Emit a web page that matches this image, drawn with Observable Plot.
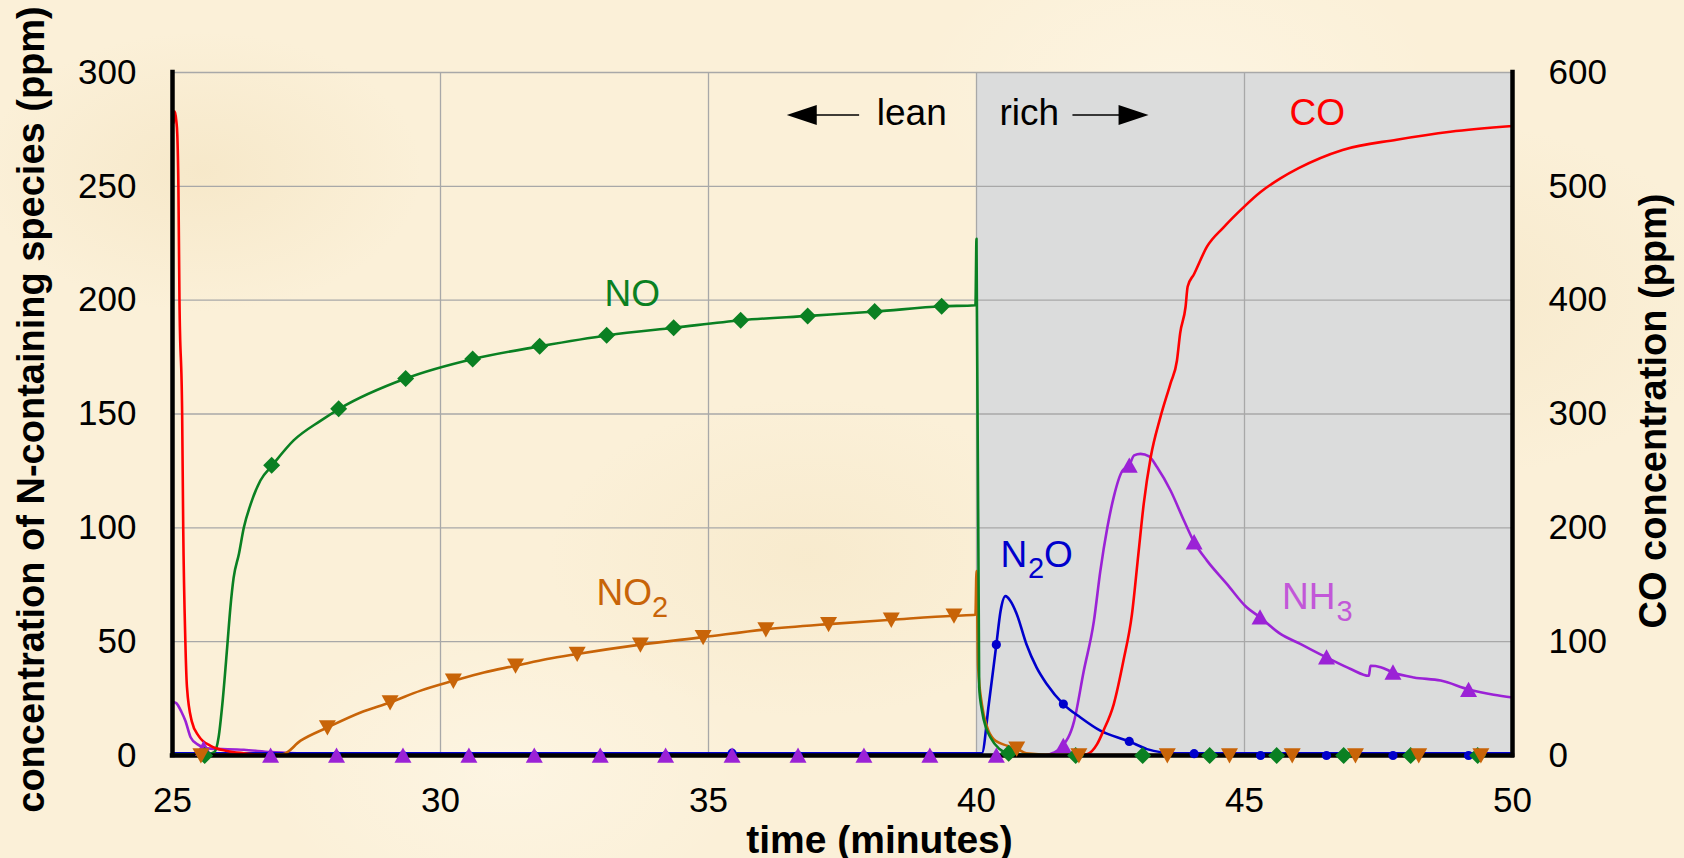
<!DOCTYPE html>
<html>
<head>
<meta charset="utf-8">
<script src="https://cdn.jsdelivr.net/npm/d3@7"></script>
<script src="https://cdn.jsdelivr.net/npm/@observablehq/plot@0.6"></script>
<style>
  html, body { margin: 0; padding: 0; }
  body {
    width: 1684px; height: 858px; overflow: hidden;
    background-color: #FBF0D8;
    background-image:
      radial-gradient(ellipse 220px 140px at 12% 20%, rgba(238,218,175,0.35), rgba(238,218,175,0) 100%),
      radial-gradient(ellipse 260px 160px at 48% 65%, rgba(240,222,182,0.30), rgba(240,222,182,0) 100%),
      radial-gradient(ellipse 300px 180px at 85% 35%, rgba(236,216,172,0.28), rgba(236,216,172,0) 100%),
      radial-gradient(ellipse 240px 150px at 30% 90%, rgba(255,250,238,0.45), rgba(255,250,238,0) 100%),
      radial-gradient(ellipse 260px 150px at 70% 10%, rgba(255,250,238,0.40), rgba(255,250,238,0) 100%);
  }
  #chart { position: absolute; left: 0; top: 0; }
</style>
</head>
<body>
<div id="chart"></div>
<script>
// ---------- axes / ticks ----------
const xTicks = [25, 30, 35, 40, 45, 50];
const gridXTicks = [30, 35, 40, 45];
const nTicks = [0, 50, 100, 150, 200, 250, 300];
const coTicks = [0, 100, 200, 300, 400, 500, 600];
const richStart = 40;
const richEnd = 50;

// ---------- NO (green) ----------
const noT = [25.0, 25.6, 25.78, 25.86, 25.93, 26.02, 26.08, 26.14, 26.24, 26.33, 26.46, 26.64, 26.86, 27.26, 27.76, 28.12, 29.35, 30.61, 31.87, 33.13, 34.37, 35.62, 36.88, 38.12, 39.36, 39.98, 40.0, 40.05, 40.1, 40.18, 40.26, 40.42, 40.6, 41.0, 41.6, 50.0];
const noV = [0.5, 0.3, 1.5, 8, 22.6, 47.5, 65, 78, 88.6, 100, 110.5, 120.8, 127.4, 138.4, 147, 152.4, 165.6, 174.2, 179.8, 184.6, 187.9, 191.2, 193.1, 195.0, 197.3, 197.8, 227, 30, 20, 12, 8, 3, 1, 0.3, 0, 0];
const noMarkT = [25.6, 26.85, 28.1, 29.35, 30.6, 31.85, 33.1, 34.35, 35.6, 36.85, 38.1, 39.35, 40.6, 41.85, 43.1, 44.35, 45.6, 46.85, 48.1, 49.35];
const noMarkV = [0, 127.5, 152.3, 165.6, 174.2, 179.8, 184.6, 187.9, 191.2, 193.1, 195.0, 197.3, 1, 0, 0, 0, 0, 0, 0, 0];

// ---------- NO2 (orange) ----------
const no2T = [25.0, 26.5, 27.05, 27.39, 27.89, 28.51, 29.06, 29.63, 30.24, 30.81, 31.4, 31.99, 32.55, 33.73, 34.9, 36.07, 37.24, 38.41, 39.58, 39.98, 40.0, 40.03, 40.1, 40.2, 40.32, 40.57, 40.75, 40.93, 41.5, 50.0];
const no2V = [0.3, 0.3, 0.5, 6.5, 12.3, 18.9, 23.3, 28.5, 32.8, 36.5, 39.4, 42.4, 44.6, 48.7, 52, 55.4, 57.7, 59.6, 61.4, 61.8, 81, 39, 22.6, 12.3, 7.2, 4.3, 3, 1, 0.3, 0];
const no2MarkT = [25.53, 27.89, 29.06, 30.24, 31.4, 32.55, 33.73, 34.9, 36.07, 37.24, 38.41, 39.58, 40.75, 41.91, 43.56, 44.72, 45.89, 47.07, 48.25, 49.41];
const no2MarkV = [0, 12.3, 23.3, 32.8, 39.4, 44.6, 48.7, 52, 55.4, 57.7, 59.6, 61.4, 3, 0, 0, 0, 0, 0, 0, 0];

// ---------- N2O (blue) ----------
const n2oT = [25.0, 40.1, 40.23, 40.37, 40.45, 40.54, 40.63, 40.75, 40.93, 41.12, 41.31, 41.62, 41.94, 42.31, 42.85, 43.18, 43.68, 50.0];
const n2oV = [1, 1, 22.6, 48.7, 63.6, 70, 68, 62.2, 49, 38.7, 31.4, 22.6, 16.7, 10.9, 6.2, 2.8, 1, 1];
const n2oMarkT = [25.6, 26.83, 28.06, 29.3, 30.53, 31.75, 32.98, 34.2, 35.44, 36.67, 37.9, 39.13, 40.37, 41.62, 42.85, 44.06, 45.3, 46.53, 47.77, 49.18];
const n2oMarkV = [0, 0, 0, 0, 0, 0, 0, 0, 1, 0, 0, 0, 48.7, 22.6, 6.2, 0.8, 0, 0, 0, 0];

// ---------- NH3 (purple) ----------
const nh3T = [25.0, 25.07, 25.17, 25.24, 25.34, 25.46, 25.71, 26.33, 26.83, 27.5, 28.5, 41.2, 41.38, 41.6, 41.82, 42.0, 42.19, 42.31, 42.44, 42.56, 42.72, 42.85, 42.94, 43.06, 43.22, 43.37, 43.62, 43.87, 44.06, 44.3, 44.67, 45.04, 45.29, 45.67, 46.04, 46.53, 46.98, 47.32, 47.35, 47.54, 47.77, 48.16, 48.66, 49.2, 49.65, 50.0];
const nh3V = [23.6, 23, 19, 15.3, 7.9, 5, 3, 2.5, 1.5, 0.8, 0, 0, 0.7, 4, 15, 37, 59, 81, 100, 113.5, 125, 127.4, 131.8, 132.5, 131.4, 126.6, 116.4, 103.2, 93.7, 85.6, 75.4, 65.1, 60.7, 53.4, 49, 43.1, 38, 35, 39.4, 38.8, 36.5, 34.3, 32.9, 28.9, 26.7, 25.5];
const nh3MarkT = [25.58, 26.83, 28.06, 29.3, 30.53, 31.75, 32.98, 34.2, 35.44, 36.67, 37.9, 39.13, 40.37, 41.62, 42.85, 44.06, 45.29, 46.53, 47.77, 49.18];
const nh3MarkV = [3, 0, 0, 0, 0, 0, 0, 0, 0, 0, 0, 0, 0, 4.3, 127.4, 93.7, 60.7, 43.1, 36.5, 28.9];

// ---------- CO (red, right axis, ppm) ----------
const coT = [25.02, 25.04, 25.07, 25.09, 25.11, 25.13, 25.18, 25.2, 25.24, 25.27, 25.36, 25.49, 25.71, 26.02, 26.33, 27.0, 41.9, 42.06, 42.25, 42.37, 42.56, 42.74, 42.9, 43.02, 43.12, 43.25, 43.43, 43.62, 43.74, 43.8, 43.9, 43.94, 44.06, 44.3, 44.61, 44.99, 45.3, 45.67, 46.01, 46.83, 47.84, 48.84, 50.0];
const coV = [556, 566, 558, 545, 500, 400, 300, 200, 100, 60, 30, 17, 8.5, 4, 2, 0, 0, 1, 10, 22, 45, 83, 124, 177, 221, 262, 297, 327, 347, 371, 394, 412, 423, 447, 464, 482, 495, 507, 516, 532, 541, 548, 553];

// ---------- helpers ----------
const ratio = coTicks[coTicks.length - 1] / nTicks[nTicks.length - 1];
const rows = (t, v, k = 1) => t.map((x, i) => ({t: x, v: v[i] / k}));

const C = {
  no: "#0A8022", no2: "#C86408", n2o: "#0000CC", nh3: "#9B22D6", nh3Label: "#C257D8", co: "#FF0000",
  rich: "#DBDCDC", grid: "#A8A8A8"
};

const sym = (fn) => ({draw(ctx, size) { fn(ctx, Math.sqrt(size / Math.PI)); }});
const diamond = sym((c, r) => { c.moveTo(0, -r); c.lineTo(r, 0); c.lineTo(0, r); c.lineTo(-r, 0); c.closePath(); });
const triUp = sym((c, r) => { c.moveTo(0, -0.95 * r); c.lineTo(r, 0.85 * r); c.lineTo(-r, 0.85 * r); c.closePath(); });
const triDown = sym((c, r) => { c.moveTo(0, 0.95 * r); c.lineTo(r, -0.85 * r); c.lineTo(-r, -0.85 * r); c.closePath(); });
const headLeft = sym((c, r) => { c.moveTo(-r, 0); c.lineTo(r, -0.67 * r); c.lineTo(r, 0.67 * r); c.closePath(); });
const headRight = sym((c, r) => { c.moveTo(r, 0); c.lineTo(-r, -0.67 * r); c.lineTo(-r, 0.67 * r); c.closePath(); });

const line = (t, v, color, k = 1) => Plot.line(rows(t, v, k), {x: "t", y: "v", stroke: color, strokeWidth: 2.6, curve: "monotone-x"});
const marks = (t, v, color, symbol, r) => Plot.dot(rows(t, v), {x: "t", y: "v", symbol, r, fill: color, stroke: "none"});
const label = (s, x, y, o = {}) => Plot.text([s], {x: () => x, y: () => y, text: d => d, textAnchor: "start", lineAnchor: "bottom", fontSize: 37, ...o});

const chart = Plot.plot({
  width: 1684,
  height: 858,
  marginLeft: 172,
  marginRight: 172,
  marginTop: 72,
  marginBottom: 103,
  x: {domain: [xTicks[0], xTicks[xTicks.length - 1]]},
  y: {domain: [nTicks[0], nTicks[nTicks.length - 1]]},
  style: {background: "transparent", fontFamily: "'Liberation Sans', Arial, sans-serif", fontSize: "35px", color: "#000", overflow: "visible"},
  marks: [
    // rich region
    Plot.rect([{x1: richStart, x2: richEnd}], {x1: "x1", x2: "x2", y1: () => nTicks[0], y2: () => nTicks[nTicks.length - 1], fill: C.rich}),
    // grid
    Plot.gridY(nTicks.slice(1), {stroke: C.grid, strokeOpacity: 1, strokeWidth: 1.3}),
    Plot.gridX(gridXTicks, {stroke: C.grid, strokeOpacity: 1, strokeWidth: 1.3}),
    // axes (ticks)
    Plot.axisY(nTicks, {anchor: "left", tickSize: 0, tickPadding: 36, label: null, fontSize: 35}),
    Plot.axisY(coTicks.map(v => v / ratio), {anchor: "right", tickSize: 0, tickPadding: 36, label: null, fontSize: 35, tickFormat: d => String(Math.round(d * ratio))}),
    Plot.axisX(xTicks, {anchor: "bottom", tickSize: 0, tickPadding: 32, label: null, fontSize: 35}),
    // series lines
    line(nh3T, nh3V, C.nh3),
    line(n2oT, n2oV, C.n2o),
    line(no2T, no2V, C.no2),
    line(noT, noV, C.no),
    line(coT, coV, C.co, ratio),
    // black axis lines
    Plot.ruleX([xTicks[0], xTicks[xTicks.length - 1]], {stroke: "#000", strokeWidth: 4.5, strokeLinecap: "square"}),
    Plot.ruleY([nTicks[0]], {stroke: "#000", strokeWidth: 4.5, strokeLinecap: "square"}),
    // markers
    marks(n2oMarkT, n2oMarkV, C.n2o, "circle", 4.6),
    marks(nh3MarkT, nh3MarkV, C.nh3, triUp, 8.5),
    marks(noMarkT, noMarkV, C.no, diamond, 8.5),
    marks(no2MarkT, no2MarkV, C.no2, triDown, 8.5),
    // series labels
    label("NO", 33.06, 197.3, {fill: C.no}),
    label("NO", 32.91, 66.0, {fill: C.no2}),
    label("2", 32.91, 66.0, {fill: C.no2, fontSize: 29, dx: 55.5, dy: 12}),
    label("N", 40.45, 82.7, {fill: C.n2o}),
    label("2", 40.45, 82.7, {fill: C.n2o, fontSize: 29, dx: 27.5, dy: 11}),
    label("O", 40.45, 82.7, {fill: C.n2o, dx: 43.5}),
    label("NH", 45.70, 64.4, {fill: C.nh3Label}),
    label("3", 45.70, 64.4, {fill: C.nh3Label, fontSize: 29, dx: 54.5, dy: 12}),
    label("CO", 45.84, 276.9, {fill: C.co}),
    // lean / rich annotations
    label("lean", 38.14, 276.9, {fill: "#000"}),
    label("rich", 40.43, 276.9, {fill: "#000"}),
    Plot.link([0], {x1: () => 37.81, x2: () => 36.9, y1: () => 281.3, y2: () => 281.3, stroke: "#000", strokeWidth: 1.6}),
    Plot.dot([0], {x: () => 36.74, y: () => 281.3, symbol: headLeft, r: 15, fill: "#000", stroke: "none"}),
    Plot.link([0], {x1: () => 41.79, x2: () => 42.8, y1: () => 281.3, y2: () => 281.3, stroke: "#000", strokeWidth: 1.6}),
    Plot.dot([0], {x: () => 42.93, y: () => 281.3, symbol: headRight, r: 15, fill: "#000", stroke: "none"}),
    // axis titles
    Plot.text(["concentration of N-containing species (ppm)"], {frameAnchor: "left", dx: -129, dy: -4.5, rotate: -90, textAnchor: "middle", lineAnchor: "bottom", fontSize: 38, fontWeight: "bold", fill: "#000"}),
    Plot.text(["CO concentration (ppm)"], {frameAnchor: "right", dx: 153, dy: -3, rotate: -90, textAnchor: "middle", lineAnchor: "bottom", fontSize: 38, fontWeight: "bold", fill: "#000"}),
    Plot.text(["time (minutes)"], {frameAnchor: "bottom", dx: 37, dy: 97, textAnchor: "middle", lineAnchor: "bottom", fontSize: 39, fontWeight: "bold", fill: "#000"})
  ]
});
document.getElementById("chart").appendChild(chart);
</script>
</body>
</html>
